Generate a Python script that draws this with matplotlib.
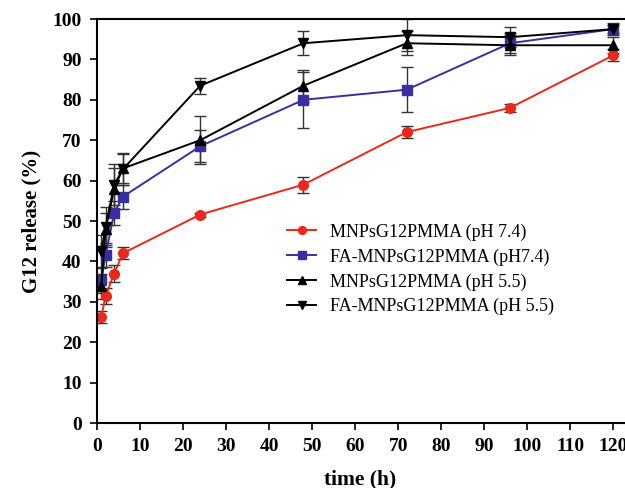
import numpy as np
import matplotlib.pyplot as plt

plt.rcParams['font.family'] = ['Liberation Serif', 'DejaVu Serif']

time = [1, 2, 4, 6, 24, 48, 72, 96, 120]

mnps_74 = [26.3, 31.4, 37, 42, 51.6, 59, 72, 78, 91]
mnps_74_err = [1.5, 2, 2, 1.5, 0.5, 2, 1.5, 1, 1.5]

fa_74 = [35.3, 41.6, 52, 56, 68.5, 80, 82.5, 94, 97.5]
fa_74_err = [3, 3, 3, 3, 4, 7, 5.5, 2.5, 1]

mnps_55 = [33.8, 48, 58, 63, 70, 83.5, 94, 93.5, 93.5]
mnps_55_err = [3, 4, 5, 3.5, 6, 4, 3, 2.5, 2]

fa_55 = [42.5, 48.5, 59, 62.8, 83.5, 94, 96, 95.5, 97.5]
fa_55_err = [4, 5, 5, 4, 2, 3, 4, 2.5, 1.5]

labels = ['MNPsG12PMMA (pH 7.4)', 'FA-MNPsG12PMMA (pH7.4)',
          'MNPsG12PMMA (pH 5.5)', 'FA-MNPsG12PMMA (pH 5.5)']

fig = plt.figure(figsize=(6.25, 4.88), dpi=100)
ax = fig.add_axes([97 / 625, 65 / 488, 527 / 625, 404 / 488])

series = [
    (mnps_74, mnps_74_err, '#e8291c', 'o', 7),
    (fa_74, fa_74_err, '#3a2fa0', 's', 6.5),
    (mnps_55, mnps_55_err, 'black', '^', 6.5),
    (fa_55, fa_55_err, 'black', 'v', 6.5),
]
lines = []
for (y, e, c, m, ms), lab in zip(series, labels):
    eb = ax.errorbar(time, y, yerr=e, color=c, marker=m, markersize=ms,
                     linewidth=1.4, elinewidth=1, ecolor='#333333', capsize=4,
                     capthick=1, label=lab)
    lines.append(eb[0])

ax.set_xlim(0, 122.5)
ax.set_ylim(0, 100)
ax.set_xticks(np.arange(0, 121, 10))
ax.set_yticks(np.arange(0, 101, 10))
ax.spines['right'].set_visible(False)
for s in ['left', 'bottom', 'top']:
    ax.spines[s].set_linewidth(1.5)
ax.tick_params(direction='out', length=5, width=1.2, labelsize=14, pad=6)
for t in ax.get_xticklabels() + ax.get_yticklabels():
    t.set_fontweight('bold')

ax.set_xlabel('time (h)', fontsize=15.5, fontweight='bold', labelpad=10)
ax.set_ylabel('G12 release (%)', fontsize=15, fontweight='bold', labelpad=8)

ax.legend(lines, labels, loc='center left', bbox_to_anchor=(0.33, 0.38),
          frameon=False, fontsize=13, handlelength=1.6, labelspacing=0.42,
          handletextpad=0.8, markerscale=0.8)

fig.savefig('out.png', dpi=100)
